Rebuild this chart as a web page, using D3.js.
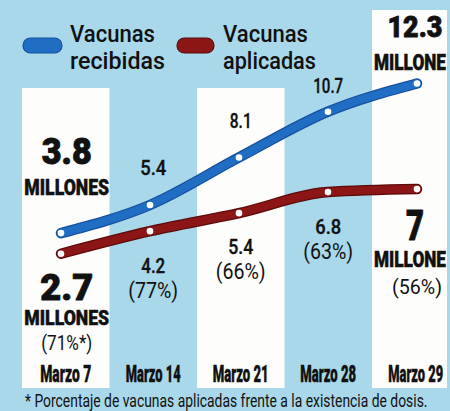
<!DOCTYPE html>
<html>
<head>
<meta charset="utf-8">
<script src="https://cdn.jsdelivr.net/npm/d3@7"></script>
<style>
  html, body { margin: 0; padding: 0; background: #a8d8ea; }
  svg { display: block; }
</style>
</head>
<body>
<svg id="chart" width="450" height="411"></svg>
<script>
// ---------- data ----------
const categories = ["Marzo 7", "Marzo 14", "Marzo 21", "Marzo 28", "Marzo 29"];
const recibidas  = [3.8, 5.4, 8.1, 10.7, 12.3];
const aplicadas  = [2.7, 4.2, 5.4, 6.8, 7];
const porcentajes = ["71%*", "77%", "66%", "63%", "56%"];
const seriesNames = ["Vacunas recibidas", "Vacunas aplicadas"];
const unitLabel = "MILLONES";
const footnote = "* Porcentaje de vacunas aplicadas frente a la existencia de dosis.";

// ---------- setup ----------
const W = 450, H = 411;
const svg = d3.select("#chart");
const BG = "#a8d8ea";
const BLUE = "#1f6ec4", BLUE_D = "#17509c";
const RED = "#8c1616", RED_D = "#5c0b0b";
const INK = "#111";

const xBand = d3.scaleBand().domain(categories).range([22, 459.5]).padding(0);
const xPt = d3.scalePoint().domain(categories).range([61, 417]);
const yBlue = d3.scaleLinear().domain([0, 10]).range([300, 124]);
const yRed  = d3.scaleLinear().domain([0, 10]).range([294.3, 144]);
const cx = c => xBand(c) + xBand.bandwidth() / 2;

svg.append("rect").attr("width", W).attr("height", H).attr("fill", BG);

// white columns for alternating categories
const colTop = [88, null, 88, null, 10];
svg.append("g").selectAll("rect")
  .data(categories.filter((c, i) => colTop[i] !== null))
  .join("rect")
  .attr("x", d => xBand(d))
  .attr("y", d => colTop[categories.indexOf(d)])
  .attr("width", d => Math.min(xBand.bandwidth(), 447 - xBand(d)))
  .attr("height", d => 388 - colTop[categories.indexOf(d)])
  .attr("fill", "#fdfdfc");

// ---------- text helper (fits a text to a given width by horizontal scaling) ----------
const HEAVY = "Roboto, 'Liberation Sans', Arial, sans-serif";
const REG = "Roboto, 'Liberation Sans', sans-serif";
function txt(parent, x, y, s, opts) {
  const t = parent.append("text").attr("x", 0).attr("y", 0)
    .attr("font-family", opts.family || HEAVY)
    .attr("font-weight", opts.weight || 900)
    .attr("font-size", opts.size)
    .attr("fill", INK)
    .text(s);
  if (opts.stroke) t.attr("stroke", INK).attr("stroke-width", opts.stroke).attr("stroke-linejoin", "round");
  const nat = t.node().getComputedTextLength();
  const len = opts.len || nat;
  const sx = len / nat;
  const anchor = opts.anchor || "middle";
  const x0 = anchor === "middle" ? x - len / 2 : x;
  t.attr("transform", `translate(${x0},${y}) scale(${sx},1)`);
  return t;
}

// ---------- legend ----------
const legend = svg.append("g");
const legItems = [
  { x: 23, w: 39, tx: 70, color: BLUE, dark: BLUE_D, words: seriesNames[0].split(" "), lens: [85, 95] },
  { x: 177, w: 37, tx: 223, color: RED, dark: RED_D, words: seriesNames[1].split(" "), lens: [85, 93] }
];
legItems.forEach(it => {
  legend.append("rect").attr("x", it.x).attr("y", 38).attr("width", it.w).attr("height", 15)
    .attr("rx", 7.5).attr("fill", it.color).attr("stroke", it.dark).attr("stroke-width", 1.2);
  it.words.forEach((w, k) => {
    txt(legend, it.tx, 42 + k * 27, w, { size: 24, weight: 500, family: REG, len: it.lens[k], anchor: "start" });
  });
});

// ---------- lines ----------
function drawSeries(values, yS, color, dark) {
  const pts = values.map((v, i) => [xPt(categories[i]), yS(v)]);
  const line = d3.line().curve(d3.curveMonotoneX);
  const g = svg.append("g");
  g.append("path").attr("d", line(pts)).attr("fill", "none")
    .attr("stroke", dark).attr("stroke-width", 10.5).attr("stroke-linecap", "round").attr("stroke-linejoin", "round");
  g.append("path").attr("d", line(pts)).attr("fill", "none")
    .attr("stroke", color).attr("stroke-width", 8).attr("stroke-linecap", "round").attr("stroke-linejoin", "round");
  g.selectAll("circle").data(pts).join("circle")
    .attr("cx", d => d[0]).attr("cy", d => d[1]).attr("r", 3.3).attr("fill", "#fff");
}
drawSeries(aplicadas, yRed, RED, RED_D);
drawSeries(recibidas, yBlue, BLUE, BLUE_D);

// ---------- labels ----------
const lab = svg.append("g");
const fmt = v => String(v);
const last = categories.length - 1;

// blue (recibidas) labels
const blueDy = [null, -30, -29, -19, null];
recibidas.forEach((v, i) => {
  const c = categories[i];
  if (i === 0) {
    txt(lab, cx(c) + 1, 164, fmt(v), { size: 37, len: 50, stroke: 0.9 });
    txt(lab, cx(c) + 1, 195, unitLabel, { size: 22, len: 85, stroke: 0.5 });
  } else if (i === last) {
    txt(lab, 415, 37, fmt(v), { size: 29, len: 55, stroke: 0.8 });
    txt(lab, 374, 70, unitLabel.slice(0, 7), { size: 22, len: 72, anchor: "start", stroke: 0.5 });
  } else {
    const lens = [0, 26, 22, 30];
    txt(lab, cx(c), yBlue(v) + blueDy[i], fmt(v), { size: 21, weight: 500, len: lens[i], family: REG, stroke: 0.35 });
  }
});

// red (aplicadas) labels
const redDy = [null, 42, 41, 42, null];
aplicadas.forEach((v, i) => {
  const c = categories[i];
  const pct = "(" + porcentajes[i] + ")";
  if (i === 0) {
    txt(lab, cx(c) + 1, 300, fmt(v), { size: 37, len: 53, stroke: 0.9 });
    txt(lab, cx(c) + 1, 325, unitLabel, { size: 21, len: 85, stroke: 0.5 });
    txt(lab, cx(c) + 1, 350, pct, { size: 20, weight: 400, len: 51, family: REG });
  } else if (i === last) {
    txt(lab, 415, 240, fmt(v), { size: 43, len: 18, stroke: 0.9 });
    txt(lab, 374, 267, unitLabel.slice(0, 7), { size: 22, len: 72, anchor: "start", stroke: 0.5 });
    txt(lab, 417, 294, pct, { size: 21, weight: 400, len: 50, family: REG });
  } else {
    const lens = [0, 24, 25, 26];
    const y = yRed(v) + redDy[i];
    txt(lab, cx(c), y, fmt(v), { size: 21, weight: 500, len: lens[i], family: REG, stroke: 0.35 });
    txt(lab, cx(c), y + 25, pct, { size: 22, weight: 400, len: 50, family: REG });
  }
});

// category labels
const catLens = [51, 55, 56, 56, 55];
categories.forEach((c, i) => {
  txt(lab, cx(c), 382, c, { size: 23, len: catLens[i], stroke: 0.4 });
});

// footnote
txt(lab, 25, 407, footnote, { size: 19, weight: 400, len: 403, anchor: "start", family: REG });
</script>
</body>
</html>
